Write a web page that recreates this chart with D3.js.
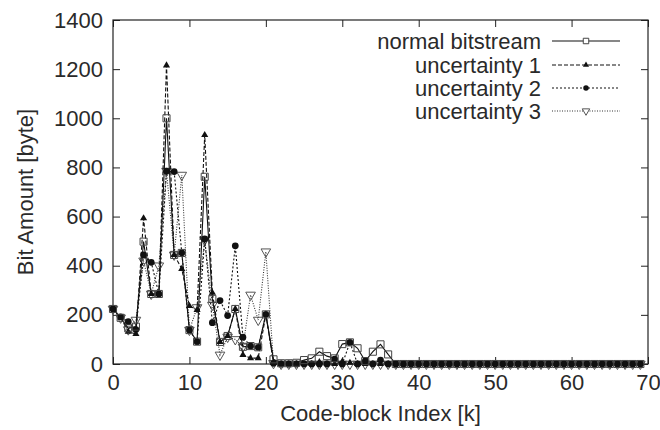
<!DOCTYPE html>
<html>
<head>
<meta charset="utf-8">
<script src="https://cdn.jsdelivr.net/npm/d3@7"></script>
<style>
  body { margin: 0; background: #fff; }
  text { font-family: 'Liberation Sans', Arial, sans-serif; fill: #2a2a2a; }
</style>
</head>
<body>
<div id="viz"></div>
<script>
// code-block index 0..69
const blockIndex = d3.range(0, 70);

const normalBitstream = [
  224, 188, 145, 152, 498, 285, 285, 1000, 444, 452,
  138, 91, 762, 265, 90, 114, 224, 70, 73, 68,
  202, 19, 3, 3, 5, 16, 23, 50, 32, 23,
  81, 88, 64, 12, 50, 80, 39, 0, 0, 0,
  0, 0, 0, 0, 0, 0, 0, 0, 0, 0,
  0, 0, 0, 0, 0, 0, 0, 0, 0, 0,
  0, 0, 0, 0, 0, 0, 0, 0, 0, 0];

const uncertainty1 = [
  224, 188, 131, 122, 593, 285, 285, 1215, 444, 387,
  236, 220, 932, 290, 90, 114, 224, 37, 24, 24,
  202, 5, 0, 0, 0, 0, 0, 8, 0, 0,
  10, 5, 0, 0, 0, 0, 0, 0, 0, 0,
  0, 0, 0, 0, 0, 0, 0, 0, 0, 0,
  0, 0, 0, 0, 0, 0, 0, 0, 0, 0,
  0, 0, 0, 0, 0, 0, 0, 0, 0, 0];

const uncertainty2 = [
  224, 192, 172, 140, 444, 414, 285, 785, 783, 452,
  138, 91, 509, 168, 258, 197, 481, 109, 73, 68,
  202, 3, 0, 0, 0, 0, 0, 0, 0, 20,
  0, 88, 0, 12, 0, 16, 0, 0, 0, 0,
  0, 0, 0, 0, 0, 0, 0, 0, 0, 0,
  0, 0, 0, 0, 0, 0, 0, 0, 0, 0,
  0, 0, 0, 0, 0, 0, 0, 0, 0, 0];

const uncertainty3 = [
  224, 188, 140, 179, 420, 285, 400, 785, 444, 769,
  138, 230, 505, 240, 37, 110, 100, 70, 281, 179,
  457, 3, 0, 0, 0, 0, 0, 0, 0, 0,
  0, 0, 0, 0, 0, 0, 0, 0, 0, 0,
  0, 0, 0, 0, 0, 0, 0, 0, 0, 0,
  0, 0, 0, 0, 0, 0, 0, 0, 0, 0,
  0, 0, 0, 0, 0, 0, 0, 0, 0, 0];

const seriesNames = ['normal bitstream', 'uncertainty 1', 'uncertainty 2', 'uncertainty 3'];
const xTicks = [0, 10, 20, 30, 40, 50, 60, 70];
const yTicks = [0, 200, 400, 600, 800, 1000, 1200, 1400];

const width = 660;
const height = 430;
const margin = { top: 20, right: 12, bottom: 66, left: 113 };

const svg = d3.select('#viz')
    .append('svg')
    .attr('width', width)
    .attr('height', height);

const xScale = d3.scaleLinear()
    .domain([0, 70])
    .range([margin.left, width - margin.right]);
const yScale = d3.scaleLinear()
    .domain([0, 1400])
    .range([height - margin.bottom, margin.top]);

const tickLen = 7;

// bottom + top axes (ticks inside)
svg.append('g')
    .attr('transform', `translate(0, ${yScale(0)})`)
    .call(d3.axisBottom(xScale).tickValues(xTicks).tickSize(-tickLen).tickPadding(10))
    .call((g) => g.select('.domain').remove())
    .selectAll('text')
    .style('font-size', '22px');
svg.append('g')
    .attr('transform', `translate(0, ${yScale(1400)})`)
    .call(d3.axisTop(xScale).tickValues(xTicks).tickSize(-tickLen).tickFormat(''))
    .call((g) => g.select('.domain').remove());

// left + right axes
svg.append('g')
    .attr('transform', `translate(${xScale(0)}, 0)`)
    .call(d3.axisLeft(yScale).tickValues(yTicks).tickSize(-tickLen).tickPadding(10).tickFormat(d3.format('d')))
    .call((g) => g.select('.domain').remove())
    .selectAll('text')
    .style('font-size', '22px');
svg.append('g')
    .attr('transform', `translate(${xScale(70)}, 0)`)
    .call(d3.axisRight(yScale).tickValues(yTicks).tickSize(-tickLen).tickFormat(''))
    .call((g) => g.select('.domain').remove());

svg.selectAll('.tick line').attr('stroke', '#222');
svg.selectAll('.tick text').attr('fill', '#2a2a2a');

// frame
svg.append('rect')
    .attr('x', xScale(0))
    .attr('y', yScale(1400))
    .attr('width', xScale(70) - xScale(0))
    .attr('height', yScale(0) - yScale(1400))
    .attr('fill', 'none')
    .attr('stroke', '#222')
    .attr('stroke-width', 1.2);

// axis titles
svg.append('text')
    .attr('x', (xScale(0) + xScale(70)) / 2)
    .attr('y', 421)
    .attr('text-anchor', 'middle')
    .style('font-size', '22px')
    .text('Code-block Index [k]');
svg.append('text')
    .attr('transform', `translate(33, ${(yScale(0) + yScale(1400)) / 2}) rotate(-90)`)
    .attr('text-anchor', 'middle')
    .style('font-size', '22px')
    .text('Bit Amount [byte]');

const series = [
  { name: seriesNames[0], values: normalBitstream, dash: null, marker: 'square', color: '#111' },
  { name: seriesNames[1], values: uncertainty1, dash: '4,2', marker: 'triangle', color: '#111' },
  { name: seriesNames[2], values: uncertainty2, dash: '2,2', marker: 'circle', color: '#111' },
  { name: seriesNames[3], values: uncertainty3, dash: '1,1.5', marker: 'triangleDown', color: '#333' },
];

const symbols = {
  square: { type: d3.symbolSquare, size: 50, legendSize: 30, fill: 'none', stroke: '#444' },
  triangle: { type: d3.symbolTriangle, size: 22, legendSize: 16, fill: '#111', stroke: 'none' },
  circle: { type: d3.symbolCircle, size: 36, legendSize: 24, fill: '#111', stroke: 'none' },
  triangleDown: { type: d3.symbolTriangle, size: 40, legendSize: 24, fill: 'none', stroke: '#555', rot: 180 },
};

const line = d3.line()
    .x((d, i) => xScale(blockIndex[i]))
    .y((d) => yScale(d));

const plot = svg.append('g');

// draw last series first, normal on top
series.slice().reverse().forEach((s) => {
  plot.append('path')
      .datum(s.values)
      .attr('d', line)
      .attr('fill', 'none')
      .attr('stroke', s.color)
      .attr('stroke-width', 1.1)
      .attr('stroke-dasharray', s.dash);
  const sym = symbols[s.marker];
  plot.append('g')
      .selectAll('path')
      .data(s.values)
      .enter()
      .append('path')
      .attr('transform', (d, i) => `translate(${xScale(blockIndex[i])}, ${yScale(d)}) rotate(${sym.rot || 0})`)
      .attr('d', d3.symbol().type(sym.type).size(sym.size))
      .attr('fill', sym.fill)
      .attr('stroke', sym.stroke)
      .attr('stroke-width', 1);
});

// legend
const legendRowY = [41, 65, 88, 111];
const legend = svg.append('g');
series.forEach((s, i) => {
  const row = legend.append('g')
      .attr('transform', `translate(0, ${legendRowY[i]})`);
  row.append('text')
      .attr('x', 541)
      .attr('y', 8)
      .attr('text-anchor', 'end')
      .style('font-size', '22px')
      .text(s.name);
  row.append('line')
      .attr('x1', 552)
      .attr('x2', 620)
      .attr('stroke', s.color)
      .attr('stroke-width', 1.1)
      .attr('stroke-dasharray', s.dash);
  const sym = symbols[s.marker];
  row.append('path')
      .attr('transform', `translate(586, 0) rotate(${sym.rot || 0})`)
      .attr('d', d3.symbol().type(sym.type).size(sym.legendSize))
      .attr('fill', sym.fill === 'none' ? '#fff' : sym.fill)
      .attr('stroke', sym.stroke);
});
</script>
</body>
</html>
